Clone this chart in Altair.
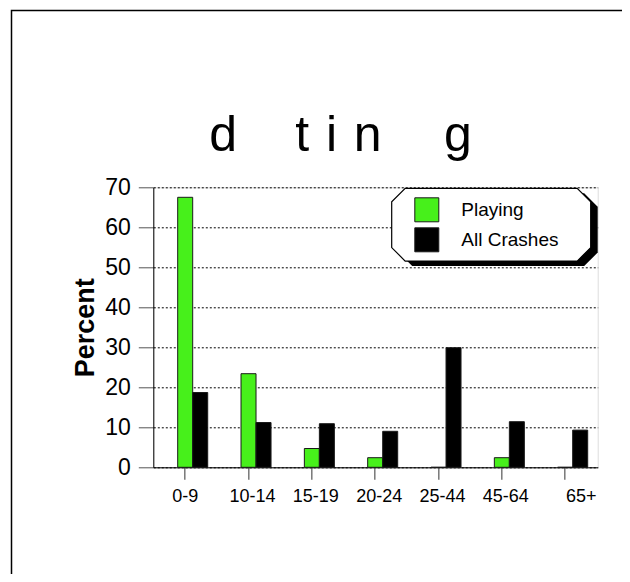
import altair as alt
import pandas as pd

# ---- data ----
age_groups = ["0-9", "10-14", "15-19", "20-24", "25-44", "45-64", "65+"]
playing = [67.5, 23.4, 4.7, 2.4, 0.0, 2.4, 0.0]
all_crashes = [18.7, 11.2, 10.9, 9.0, 29.9, 11.4, 9.3]
series = ["Playing", "All Crashes"]
colors = ["#47F01B", "#000000"]
y_ticks = [0, 10, 20, 30, 40, 50, 60, 70]
title_text = "d\u2003\u2006t\u2004i\u2004n\u2003\u2005g"
y_title = "Percent"

rows = []
for i, a in enumerate(age_groups):
    rows.append({"age": a, "series": series[0], "pct": playing[i]})
    rows.append({"age": a, "series": series[1], "pct": all_crashes[i]})
df = pd.DataFrame(rows)
one = pd.DataFrame({"k": [0]})

FONT = "Liberation Sans"
W, H = 444.4, 280
PAD_L, PAD_T = 145.3, 179.3
PAD_R = 614 - PAD_L - W
PAD_B = 566 - PAD_T - H

border_top = 10.5 - 187.3
border_left = 11.5 - 153.3

bars = alt.Chart(df).mark_bar(stroke="#1a1a1a", strokeWidth=1).encode(
    x=alt.X(
        "age:N",
        sort=age_groups,
        title=None,
        scale=alt.Scale(paddingInner=0.526, paddingOuter=0.2716, align=0.709),
        axis=alt.Axis(
            bandPosition=0.245,
            labelAngle=0,
            labelFont=FONT,
            labelFontSize=18,
            labelColor="black",
            labelPadding=8,
            labelOffset={
                "condition": [
                    {"test": "datum.value == '65+'", "value": 8.5},
                    {"test": "datum.value == '0-9'", "value": -7.5},
                ],
                "value": -3.5,
            },
            tickSize=12,
            tickColor="#777777",
            tickWidth=1.5,
            domainColor="black",
            domainWidth=1,
            grid=False,
        ),
    ),
    xOffset=alt.XOffset(
        "series:N", sort=series, scale=alt.Scale(paddingInner=0, paddingOuter=0)
    ),
    y=alt.Y(
        "pct:Q",
        title=y_title,
        scale=alt.Scale(domain=[0, 70], nice=False),
        axis=alt.Axis(
            values=y_ticks,
            labelFont=FONT,
            labelFontSize=23,
            labelColor="black",
            labelPadding=8,
            tickSize=15,
            tickColor="#555555",
            tickWidth=1,
            domainColor="black",
            domainWidth=1,
            grid=True,
            gridColor="black",
            gridDash=[2, 2],
            gridWidth=1,
            titleFont=FONT,
            titleFontSize=27,
            titleFontWeight="bold",
            titleColor="black",
            titleX=-59.5,
            titleY=140,
            titleAngle=270,
            titleAlign="center",
            titleBaseline="alphabetic",
        ),
    ),
    color=alt.Color(
        "series:N",
        sort=series,
        scale=alt.Scale(domain=series, range=colors),
        legend=alt.Legend(
            title=None,
            orient="none",
            legendX=261,
            legendY=10,
            symbolType="square",
            symbolSize=576,
            symbolStrokeColor="#1a1a1a",
            symbolStrokeWidth=1,
            labelFont=FONT,
            labelFontSize=19,
            labelColor="black",
            labelOffset=22,
            rowPadding=1,
            padding=0,
        ),
    ),
)

# decorative frame of the original picture
border = alt.Chart(one).mark_rect(
    fillOpacity=0, stroke="black", strokeWidth=1.5
).encode(
    x=alt.value(border_left), x2=alt.value(700),
    y=alt.value(border_top), y2=alt.value(600),
)

octagon = "M-86,-36.35L86,-36.35L99.5,-22.85L99.5,22.85L86,36.35L-86,36.35L-99.5,22.85L-99.5,-22.85Z"
box_cx, box_cy = 337.9, 37.4
shadow = alt.Chart(one).mark_point(
    shape=octagon, size=4, filled=True, fill="black", opacity=1, strokeWidth=0
).encode(x=alt.value(box_cx + 7), y=alt.value(box_cy + 5))
box = alt.Chart(one).mark_point(
    shape=octagon, size=4, filled=True, fill="white", stroke="black",
    strokeWidth=1.2, opacity=1
).encode(x=alt.value(box_cx), y=alt.value(box_cy))

chart = alt.layer(border, shadow, box, bars).properties(
    width=W,
    height=H,
    padding={"left": PAD_L, "top": PAD_T, "right": PAD_R, "bottom": PAD_B},
    autosize=alt.AutoSizeParams(type="none"),
    title=alt.TitleParams(
        text=title_text,
        font=FONT,
        fontSize=50,
        fontWeight="normal",
        color="black",
        anchor="middle",
        frame="group",
        baseline="alphabetic",
        offset=-191.5,
        dx=-35,
    ),
).configure_view(strokeWidth=0).configure(font=FONT)

chart.save("out.html", embed_options={"renderer": "svg", "actions": False})
